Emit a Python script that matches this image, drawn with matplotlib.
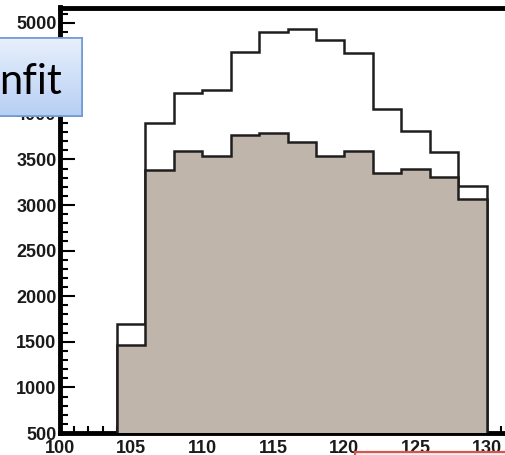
import numpy as np
import matplotlib
matplotlib.use("Agg")
import matplotlib.pyplot as plt
from matplotlib.patches import Rectangle, FancyBboxPatch
from matplotlib.ticker import MultipleLocator

# bin edges and contents
edges = [104, 106, 108, 110, 112, 114, 116, 118, 120, 122, 124, 126, 128, 130]
total = [1690, 3900, 4225, 4265, 4680, 4895, 4930, 4815, 4665, 4055, 3810, 3580, 3210]
signal = [1460, 3385, 3595, 3540, 3768, 3786, 3691, 3541, 3596, 3348, 3391, 3310, 3062]
x_ticks = [100, 105, 110, 115, 120, 125, 130]
y_ticks = [500, 1000, 1500, 2000, 2500, 3000, 3500, 4000, 4500, 5000]

W, H = 505, 455
fig = plt.figure(figsize=(W / 100, H / 100), dpi=100)
ax = fig.add_axes([60 / W, 22 / H, 32 * 14.22 / W, 425.5 / H])

line_col = "#1e1e1e"
ax.stairs(total, edges, baseline=500, fill=False, color=line_col, lw=1.8, zorder=2)
ax.stairs(signal, edges, baseline=500, fill=True, facecolor="#bfb5ab",
          edgecolor=line_col, lw=1.8, zorder=3)

ax.set_xlim(100, 132)
ax.set_ylim(500, 5166)
ax.set_axisbelow(True)

ax.set_xticks(x_ticks)
ax.set_yticks(y_ticks)
ax.xaxis.set_minor_locator(MultipleLocator(1))
ax.yaxis.set_minor_locator(MultipleLocator(100))

tick_font = dict(family="Liberation Sans", weight="bold", size=13)
ax.set_xticklabels([str(v) for v in x_ticks], **tick_font, color="#1a1a1a")
ax.set_yticklabels([str(v) for v in y_ticks], **tick_font, color="#1a1a1a")

ax.tick_params(axis="x", which="major", direction="in", length=9.5, width=1.5, pad=5)
ax.tick_params(axis="x", which="minor", direction="in", length=5, width=1.5)
ax.tick_params(axis="y", which="major", direction="in", length=10.5, width=1.5, pad=2.5)
ax.tick_params(axis="y", which="minor", direction="in", length=5.8, width=1.5)

for s in ax.spines.values():
    s.set_linewidth(3.5)
    s.set_color("black")

# slide overlay: blue label box at top left
box = FancyBboxPatch((-10 / W, (H - 116) / H), 92 / W, 78 / H,
                     boxstyle="square,pad=0", transform=fig.transFigure,
                     facecolor="#d3e2f9", edgecolor="#6f9bd3", lw=1.2, zorder=10)
fig.patches.append(box)
grad = np.linspace(0, 1, 64).reshape(-1, 1)
gax = fig.add_axes([-10 / W, (H - 116) / H, 92 / W, 78 / H], zorder=11)
gax.imshow(grad, aspect="auto", extent=[0, 1, 0, 1],
           cmap=matplotlib.colors.LinearSegmentedColormap.from_list(
               "g", ["#b7cff4", "#e8f0fc"]), origin="lower")
gax.set_xlim(0, 1)
gax.set_ylim(0, 1)
gax.set_xticks([])
gax.set_yticks([])
for s in gax.spines.values():
    s.set_color("#6f9bd3")
    s.set_linewidth(1.2)
fig.text(-1 / W, (H - 94) / H, "nfit", family="Lato", size=30,
         color="black", ha="left", va="baseline", zorder=12)

# slide overlay: red box at bottom right
red = Rectangle((355 / W, -20 / H), 200 / W, (20 + 3.5) / H,
                transform=fig.transFigure, facecolor="#f7f1f1",
                edgecolor="#d9544f", lw=1.6, zorder=10)
fig.patches.append(red)

fig.savefig("out.png", dpi=100)
